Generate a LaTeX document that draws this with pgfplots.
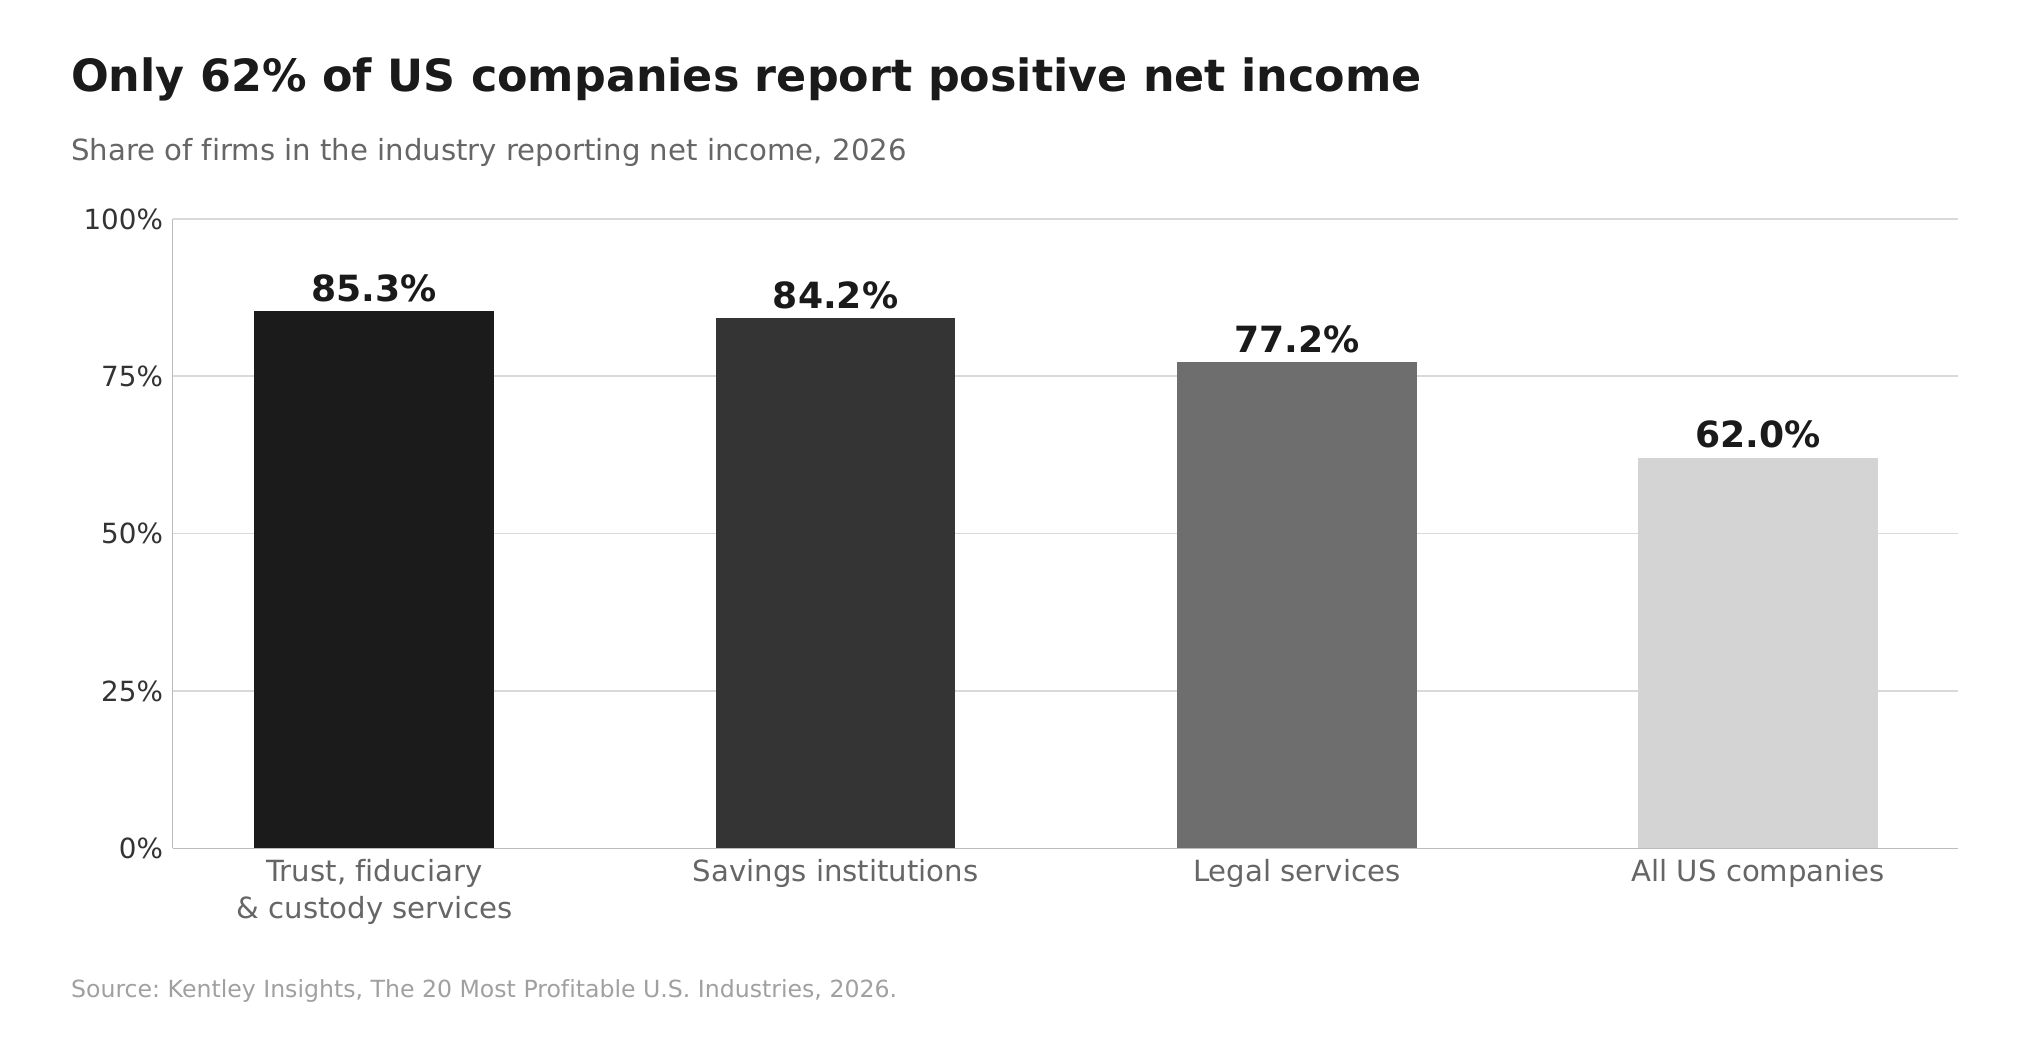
\documentclass[border=0pt]{standalone}
\usepackage{pgfplots}
\pgfplotsset{compat=1.18}
\usepackage{fontspec}
\setmainfont[Ligatures=NoCommon]{DejaVu Sans}
\frenchspacing

\definecolor{titlec}{HTML}{1A1A1A}
\definecolor{subc}{HTML}{666666}
\definecolor{srcc}{HTML}{A0A0A0}
\definecolor{gridc}{HTML}{D9D9D9}
\definecolor{axisc}{HTML}{BBBBBB}
\definecolor{ytickc}{HTML}{333333}
\definecolor{barA}{HTML}{1B1B1B}
\definecolor{barB}{HTML}{343434}
\definecolor{barC}{HTML}{6E6E6E}
\definecolor{barD}{HTML}{D4D4D4}

\begin{document}
\begin{tikzpicture}
\path[use as bounding box] (0,0) rectangle (734pt,374.4pt);

\node[anchor=base west, inner sep=0pt, text=titlec, font=\fontsize{16}{20}\selectfont\bfseries]
  at (25.4pt,341.3pt) {Only 62\% of US companies report positive net income};
\node[anchor=base west, inner sep=0pt, text=subc, font=\fontsize{10.5}{13}\selectfont]
  at (25.4pt,316.5pt) {Share of firms in the industry reporting net income, 2026};
\node[anchor=base west, inner sep=0pt, text=srcc, font=\fontsize{8.5}{10}\selectfont]
  at (25.4pt,15.3pt) {Source: Kentley Insights, The 20 Most Profitable U.S. Industries, 2026.};

\begin{axis}[
    at={(62.2pt,69.0pt)}, anchor=south west,
    scale only axis,
    width=642.7pt, height=226.6pt,
    ybar, bar width=0.52, bar shift=0pt,
    xmin=-0.437, xmax=3.434,
    ymin=0, ymax=100,
    xtick={0,1,2,3},
    xticklabels={{Trust, fiduciary\\\& custody services},{Savings institutions},{Legal services},{All US companies}},
    ytick={0,25,50,75,100},
    yticklabel={\pgfmathprintnumber{\tick}\%},
    /pgf/number format/assume math mode=true,
    x tick label style={text=subc, font=\fontsize{10.5}{13.2}\selectfont, align=center, yshift=-0.5pt},
    y tick label style={text=ytickc, font=\fontsize{10}{12}\selectfont},
    major tick length=0pt,
    axis x line*=bottom, axis y line*=left,
    axis line style={axisc, line width=0.5pt},
    ymajorgrids, grid style={gridc, line width=0.6pt},
    nodes near coords={\pgfmathprintnumber[fixed,precision=1,fixed zerofill]{\pgfplotspointmeta}\%},
    nodes near coords style={text=titlec, font=\fontsize{13}{15}\selectfont\bfseries, /pgf/number format/assume math mode=true},
    clip=false,
]
\addplot[fill=barA, draw=none] coordinates {(0,85.3)};
\addplot[fill=barB, draw=none] coordinates {(1,84.2)};
\addplot[fill=barC, draw=none] coordinates {(2,77.2)};
\addplot[fill=barD, draw=none] coordinates {(3,62.0)};
\end{axis}
\end{tikzpicture}
\end{document}
